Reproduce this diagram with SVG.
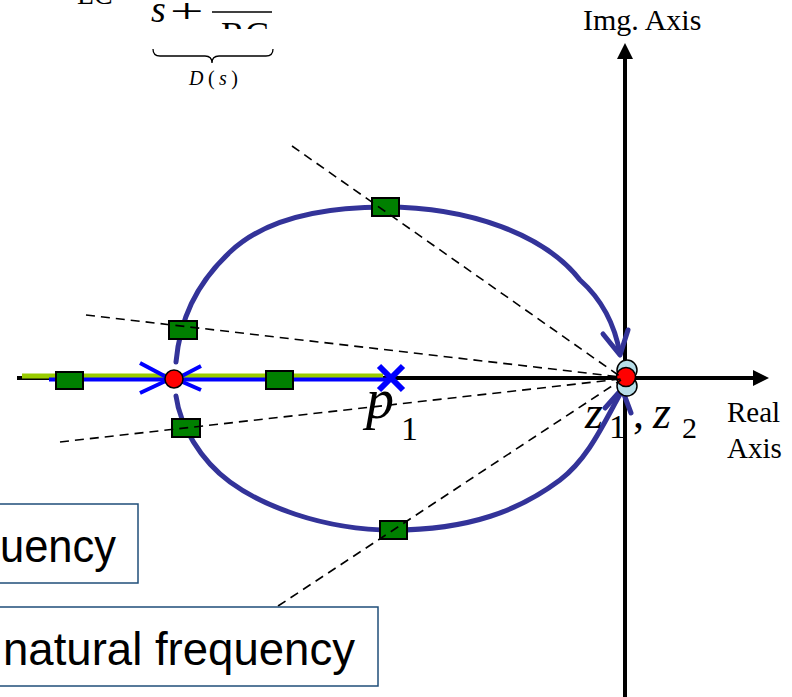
<svg xmlns="http://www.w3.org/2000/svg" width="792" height="697" viewBox="0 0 792 697">
<style>
.axis{stroke:#000;stroke-width:4;fill:none}
.locus{stroke:#333399;stroke-width:5;fill:none;stroke-linecap:round;stroke-linejoin:round}
.dash{stroke:#000;stroke-width:1.6;stroke-dasharray:9,6;fill:none}
.sq{fill:#008000;stroke:#000;stroke-width:2}
.serif{font-family:"Liberation Serif","Times New Roman",serif;fill:#000}
.sans{font-family:"Liberation Sans",Arial,sans-serif;fill:#000}
.box{fill:#fff;stroke:#1f4e79;stroke-width:1.5}
</style>
<defs>
<clipPath id="rcclip"><rect x="200" y="0" width="100" height="29"/></clipPath>
</defs>
<g id="formula">
<text class="serif" x="77" y="4" font-size="28">LC</text>
<text class="serif" x="151" y="22" font-size="38" font-style="italic">s</text>
<text class="serif" font-size="34" transform="translate(170,22) scale(1.75,1)">+</text>
<line x1="212" y1="12" x2="272" y2="12" stroke="#000" stroke-width="1.5"/>
<text class="serif" x="221" y="47" font-size="36" clip-path="url(#rcclip)">RC</text>
<path d="M153,49 Q153,56 160,56 L205,56 Q212,56 212,63 Q212,56 219,56 L266,56 Q273,56 273,49" fill="none" stroke="#000" stroke-width="1.3"/>
<text class="serif" x="189" y="85" font-size="20" font-style="italic" textLength="49">D<tspan font-style="normal">(</tspan>s<tspan font-style="normal">)</tspan></text>
</g>
<g id="axes">
<line class="axis" x1="625" y1="56" x2="625" y2="697"/>
<polygon points="625,43 617,59 633,59" fill="#000"/>
<line class="axis" x1="17" y1="378" x2="756" y2="378"/>
<polygon points="769,378 753,370 753,386" fill="#000"/>
<text class="serif" x="583" y="30" font-size="30">Img. Axis</text>
<text class="serif" x="727" y="422" font-size="29">Real</text>
<text class="serif" x="727" y="458" font-size="29">Axis</text>
</g>
<g id="real-axis-locus">
<line x1="22" y1="376" x2="383" y2="376" stroke="#99cc00" stroke-width="5"/>
<line x1="49" y1="379.5" x2="388" y2="379.5" stroke="#0000ff" stroke-width="4"/>
</g>
<g id="connectors">
<path class="locus" d="M176,362 C180,320 195,285 230,252 S320,207 385,207 C470,207 545,235 580,280 C598,296 614,320 620,354"/>
<path class="locus" d="M603,334 L620,355 L628,330"/>
<path class="locus" d="M176,396 C180,425 200,460 230,482 S320,530 393,530 C470,530 520,510 560,480 C590,457 605,420 623,389"/>
<path class="locus" d="M605,408 L622,389 L631,413"/>
<path d="M140,363 L170,379 L140,393 M201,366 L176,379 L201,390" stroke="#0000ff" stroke-width="4" fill="none"/>
</g>
<g id="breakaway">
<circle cx="174" cy="379" r="9" fill="#ff0000" stroke="#000" stroke-width="1.5"/>
</g>
<g id="squares">
<rect class="sq" x="56" y="372" width="27" height="17"/>
<rect class="sq" x="266" y="371" width="27" height="18"/>
<rect class="sq" x="169" y="321" width="28" height="18"/>
<rect class="sq" x="172" y="419" width="28" height="18"/>
<rect class="sq" x="372" y="198" width="27" height="18"/>
<rect class="sq" x="380" y="521" width="27" height="18"/>
</g>
<g id="zeros">
<circle cx="627" cy="370" r="10" fill="#b7dde8" stroke="#000" stroke-width="1.5"/>
<circle cx="627" cy="386" r="10" fill="#b7dde8" stroke="#000" stroke-width="1.5"/>
<circle cx="626" cy="377" r="9.5" fill="#ff0000" stroke="#000" stroke-width="1.5"/>
</g>
<g id="dashed-lines">
<line class="dash" x1="292" y1="146" x2="621" y2="377"/>
<line class="dash" x1="86" y1="315" x2="621" y2="377"/>
<line class="dash" x1="60" y1="442" x2="621" y2="379"/>
<line class="dash" x1="278" y1="606" x2="621" y2="380"/>
</g>
<g id="pole">
<path d="M379,366 L403,390 M403,366 L379,390" stroke="#0000ff" stroke-width="6"/>
<text class="serif" x="366" y="418" font-size="56" font-style="italic">p</text>
<text class="serif" x="401" y="440" font-size="34">1</text>
</g>
<g id="zero-label">
<text class="serif" x="585" y="428" font-size="46" font-style="italic">z</text>
<text class="serif" x="609" y="438" font-size="34">1</text>
<text class="serif" x="633" y="428" font-size="44">,</text>
<text class="serif" x="653" y="428" font-size="46" font-style="italic">z</text>
<text class="serif" x="682" y="438" font-size="30">2</text>
</g>
<g id="box1">
<rect class="box" x="-2" y="504" width="140" height="79"/>
<text class="sans" x="0" y="562" font-size="47" textLength="116" lengthAdjust="spacingAndGlyphs">uency</text>
</g>
<g id="box2">
<rect class="box" x="-2" y="607" width="380" height="79"/>
<text class="sans" x="3" y="665" font-size="47" textLength="352" lengthAdjust="spacingAndGlyphs">natural frequency</text>
</g>
</svg>
